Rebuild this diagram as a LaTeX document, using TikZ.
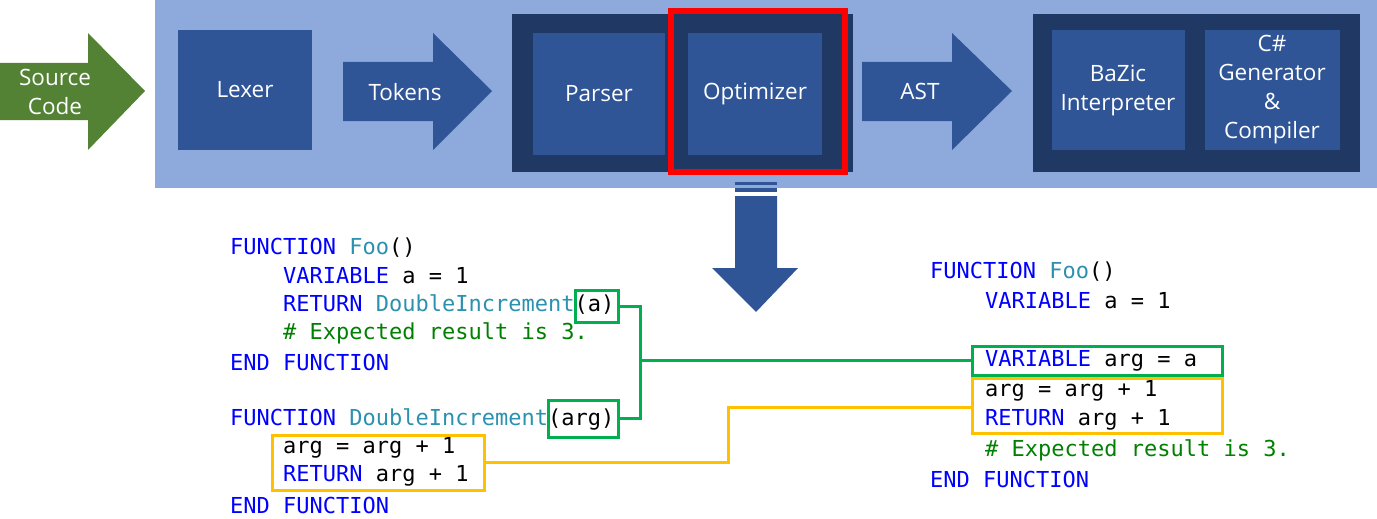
\documentclass[tikz,border=0pt]{standalone}
\usepackage{fontspec}
\setmainfont{Open Sans}
\newfontfamily\codefont{DejaVu Sans Mono}
\definecolor{bgl}{HTML}{8EA9DB}
\definecolor{mid}{HTML}{2F5597}
\definecolor{dark}{HTML}{203864}
\definecolor{grn}{HTML}{548235}
\definecolor{kw}{HTML}{0000FF}
\definecolor{fn}{HTML}{2B91AF}
\definecolor{cm}{HTML}{008000}
\definecolor{gbox}{HTML}{00B050}
\definecolor{ybox}{HTML}{FFC000}
\tikzset{
 blk/.style={fill=mid,draw=none,text=white,font=\fontsize{22.5}{29}\selectfont,align=center,inner sep=0},
 code/.style={anchor=west,inner sep=0,font=\codefont\fontsize{22}{24}\selectfont},
 gb/.style={draw=gbox,line width=3pt},
 yb/.style={draw=ybox,line width=3pt},
}
\newcommand{\K}[1]{\textcolor{kw}{#1}}
\newcommand{\F}[1]{\textcolor{fn}{#1}}
\newcommand{\C}[1]{\textcolor{cm}{#1}}
\begin{document}
\begin{tikzpicture}[x=1pt,y=-1pt]
\useasboundingbox (0,0) rectangle (1377,519);
\fill[bgl] (155,0) rectangle (1377,188);
% source code arrow
\fill[grn] (0,63) -- (88,63) -- (88,33) -- (145,91) -- (88,150) -- (88,120) -- (0,120) -- cycle;
\node[blk,fill=none] (src) at (55,92) {Source\\Code};
\node[blk,minimum width=134,minimum height=120] (lexer) at (245,90) {Lexer};
\fill[mid] (343,62) -- (433,62) -- (433,33) -- (492,91) -- (433,150) -- (433,121) -- (343,121) -- cycle;
\node[blk,fill=none] (tok) at (405,92) {Tokens};
\fill[dark] (512,14) rectangle (853,172);
\node[blk,minimum width=132,minimum height=122] (parser) at (599,94) {Parser};
\node[draw=red,line width=6pt,minimum width=174,minimum height=161,inner sep=0] (red) at (758,91.5) {};
\node[blk,minimum width=134,minimum height=122] (opt) at (755,94) {Optimizer};
\fill[mid] (862,62) -- (952,62) -- (952,33) -- (1012,91) -- (952,150) -- (952,121) -- (862,121) -- cycle;
\node[blk,fill=none] (ast) at (920,91) {AST};
\fill[dark] (1033,14) rectangle (1360,172);
\node[blk,minimum width=133,minimum height=120] (baz) at (1118,90) {BaZic\\Interpreter};
\node[blk,minimum width=135,minimum height=120] (cs) at (1272,90) {C\#\\Generator\\\&\\Compiler};
% down arrow
\fill[mid] (735,196) -- (777,196) -- (777,268) -- (798,268) -- (756,312) -- (712,268) -- (735,268) -- cycle;
\fill[mid] (735,182) rectangle (777,185);
\fill[mid] (735,188) rectangle (777,192);
% left code
\node[code] (l1) at (230,248) {\K{FUNCTION} \F{Foo}()};
\node[code] (l2) at (283,276) {\K{VARIABLE} a = 1};
\node[code] (l3) at (283,305) {\K{RETURN} \F{DoubleIncrement}(a)};
\node[code] (l4) at (283,333) {\C{\# Expected result is 3.}};
\node[code] (l5) at (230,362) {\K{END FUNCTION}};
\node[code] (l6) at (230,419) {\K{FUNCTION} \F{DoubleIncrement}(arg)};
\node[code] (l7) at (283,448) {arg = arg + 1};
\node[code] (l8) at (283,476) {\K{RETURN} arg + 1};
\node[code] (l9) at (230,505) {\K{END FUNCTION}};
% right code
\node[code] (r1) at (930,272) {\K{FUNCTION} \F{Foo}()};
\node[code] (r2) at (985,301) {\K{VARIABLE} a = 1};
\node[code] (r3) at (985,361) {\K{VARIABLE} arg = a};
\node[code] (r4) at (985,391) {arg = arg + 1};
\node[code] (r5) at (985,420) {\K{RETURN} arg + 1};
\node[code] (r6) at (985,450) {\C{\# Expected result is 3.}};
\node[code] (r7) at (930,479) {\K{END FUNCTION}};
% boxes
\node[gb,minimum width=43,minimum height=32,inner sep=0] (ga) at (596.5,306) {};
\node[gb,minimum width=70,minimum height=37,inner sep=0] (garg) at (583,418.5) {};
\node[gb,minimum width=250,minimum height=29,inner sep=0] (gr) at (1097,360.5) {};
\node[yb,minimum width=212,minimum height=55,inner sep=0] (yl) at (378,462.5) {};
\node[yb,minimum width=250,minimum height=55,inner sep=0] (yr) at (1097,405.5) {};
\coordinate (gm) at (640,360.5);
\draw[gbox,line width=3pt] (ga.east) -| (gm) |- (garg.east);
\draw[gbox,line width=3pt] (gm) -- (gr.west);
\coordinate (ym) at (728,407);
\draw[ybox,line width=3pt] (yl.east) -| (ym) -- (ym -| yr.west);
\end{tikzpicture}
\end{document}
